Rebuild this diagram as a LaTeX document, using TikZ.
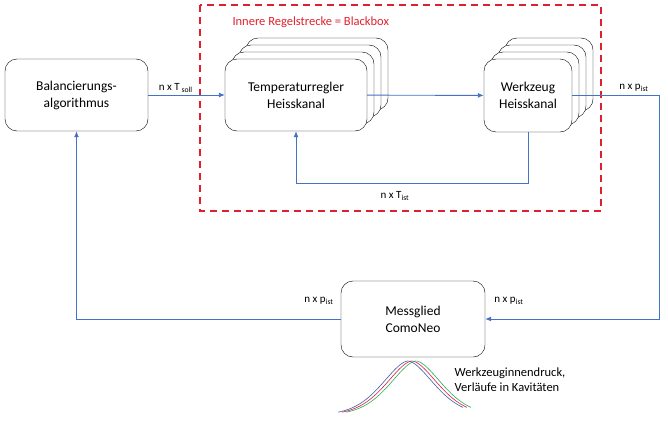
\documentclass[tikz,border=0pt]{standalone}
\usepackage{fontspec}
\setmainfont{Carlito}
\usetikzlibrary{arrows.meta,shadows,positioning}

\definecolor{linie}{HTML}{4472C4}
\definecolor{rot}{HTML}{E0202E}
\definecolor{kurveblau}{HTML}{3F5BA9}
\definecolor{kurverot}{HTML}{D81E3A}
\definecolor{kurvegruen}{HTML}{2BAA5A}

\begin{document}
\begin{tikzpicture}[x=1pt, y=-1pt, >={Latex[length=6pt,width=5pt]},
    main/.style = {draw, rounded corners=12pt, fill=white, align=center,
                   font=\fontsize{13.5}{17}\selectfont},
    stapel/.style = {copy shadow={shadow xshift=21pt, shadow yshift=21pt},
                     copy shadow={shadow xshift=14pt, shadow yshift=14pt},
                     copy shadow={shadow xshift=7pt, shadow yshift=7pt}},
    signal/.style = {draw=linie, line width=0.9pt},
    label/.style = {font=\fontsize{11}{13}\selectfont}]
    \useasboundingbox (0,0) rectangle (668,420);

    % Blackbox
    \draw[rot, line width=1.6pt, dash pattern=on 7pt off 5pt] (200,5) rectangle (601,211);
    \node[text=rot, anchor=west, font=\fontsize{12.5}{15}\selectfont] (titel) at (229,22) {Innere Regelstrecke = Blackbox};

    \node[main, minimum width=143pt, minimum height=72pt] (bal) at (76.5,95) {Balancierungs-\\algorithmus};
    \node[main, stapel, minimum width=142pt, minimum height=72pt] (temp) at (296,95) {Temperaturregler\\Heisskanal};
    \node[main, stapel, minimum width=88pt, minimum height=73pt] (wkz) at (528,95.5) {Werkzeug\\Heisskanal};
    \node[main, minimum width=144pt, minimum height=76pt] (mess) at (413,319) {Messglied\\ComoNeo};

    \coordinate (r1) at (659,95);
    \coordinate (r2) at (659,319);
    \coordinate (u1) at (528,183);
    \coordinate (u2) at (296,183);
    \coordinate (l1) at (76.5,319);

    \draw[signal, ->] (bal) -- node[label, above=-1pt, pos=0.36] {n x T\textsubscript{ soll}} (temp);
    \draw[signal, ->] (temp) -- (wkz);
    \draw[signal] (wkz.east |- r1) -- (r1);
    \draw[signal, ->] (r1) -- (r2) -- (mess);
    \draw[signal, ->] (wkz) -- (u1) -- (u2) -- (temp);
    \draw[signal, ->] (mess) -- (l1) -- (bal);

    \node[label] (tist) at (395,196) {n x T\textsubscript{ist}};
    \node[label] (pwkz) at (634,88) {n x p\textsubscript{ist}};
    \node[label] (pmess) at (509,301) {n x p\textsubscript{ist}};
    \node[label] (pbal) at (319,301) {n x p\textsubscript{ist}};

    % Druckverlaeufe
    \foreach \farbe/\m in {kurveblau/408, kurverot/412, kurvegruen/416}
        \draw[\farbe, semithick] plot[domain={\m-70}:{\m+55}, samples=80, smooth]
            (\x, {415 - 54*exp(-(abs(\x-\m)/37)^1.7)});
    \node[align=left, font=\fontsize{12.5}{15}\selectfont] (druck) at (510,380) {Werkzeuginnendruck,\\Verläufe in Kavitäten};

\end{tikzpicture}
\end{document}
